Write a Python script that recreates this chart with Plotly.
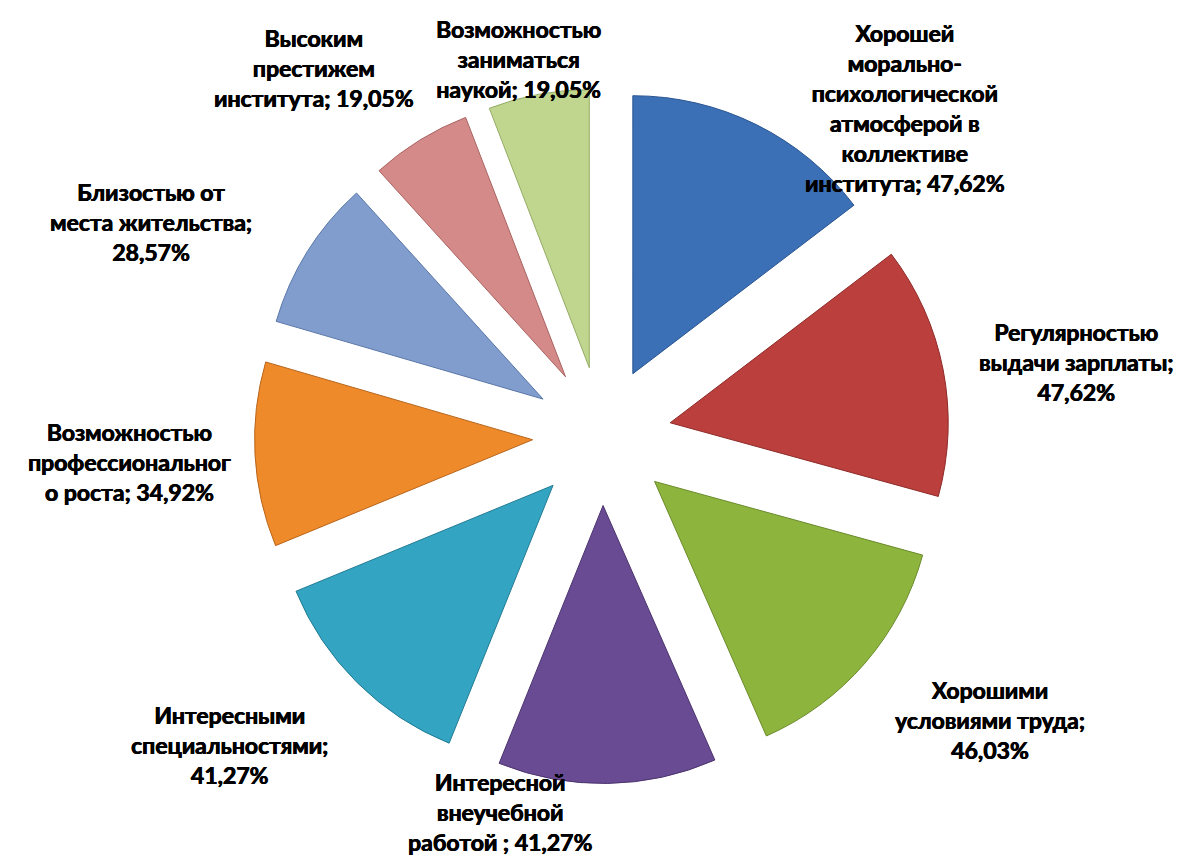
import plotly.graph_objects as go

# ---- data ----
categories = [
    "Хорошей<br>морально-<br>психологической<br>атмосферой в<br>коллективе<br>института",
    "Регулярностью<br>выдачи зарплаты",
    "Хорошими<br>условиями труда",
    "Интересной<br>внеучебной<br>работой ",
    "Интересными<br>специальностями",
    "Возможностью<br>профессиональног<br>о роста",
    "Близостью от<br>места жительства",
    "Высоким<br>престижем<br>института",
    "Возможностью<br>заниматься<br>наукой",
]
values = [47.62, 47.62, 46.03, 41.27, 41.27, 34.92, 28.57, 19.05, 19.05]
separators = ["; ", ";<br>", ";<br>", "; ", ";<br>", "; ", ";<br>", "; ", "; "]

# ---- styles / layout ----
colors = ["#3b6fb6", "#bb3f3c", "#8db53e", "#684b92", "#33a4c2",
          "#ef8a2b", "#809dce", "#d48a88", "#c0d68f"]
edges = ["#2a5590", "#8e2b29", "#6a8a2a", "#4c346e", "#237c94",
         "#b8651a", "#5a77a8", "#a96462", "#95ab66"]
# label centres in screen pixels (x, y from top)
label_px = [(905, 108), (1076, 362), (990, 720), (500, 812), (229, 745),
            (130, 462), (151, 222), (314, 68), (518, 59)]

W, H = 1183, 861
OFF = 8  # page body margin

def fx(px):
    return (px - OFF) / W

def fy(py):
    return 1 - (py - OFF) / H

fig = go.Figure(go.Pie(
    labels=[c.replace("<br>", " ").strip() for c in categories],
    values=values,
    sort=False,
    direction="clockwise",
    rotation=0,
    pull=[0.25] * len(values),
    marker=dict(colors=colors, line=dict(color=edges, width=1)),
    textinfo="none",
    hoverinfo="label+value",
    domain=dict(x=[fx(254.5), fx(949.5)], y=[fy(783.5), fy(88.5)]),
    showlegend=False,
))

for cat, val, sep, (px, py) in zip(categories, values, separators, label_px):
    txt = cat + sep + f"{val:.2f}%".replace(".", ",")
    fig.add_annotation(
        x=fx(px), y=fy(py), xref="paper", yref="paper",
        text=txt, showarrow=False, align="center",
        xanchor="center", yanchor="middle",
        font=dict(family="Lato", size=23, color="#000000", weight="bold",
                  shadow="0.5px 0 0 #000, -0.3px 0 0 #000"),
    )

fig.update_layout(
    width=W, height=H,
    margin=dict(l=0, r=0, t=0, b=0),
    paper_bgcolor="white", plot_bgcolor="white",
)

fig.write_html("out.html")
